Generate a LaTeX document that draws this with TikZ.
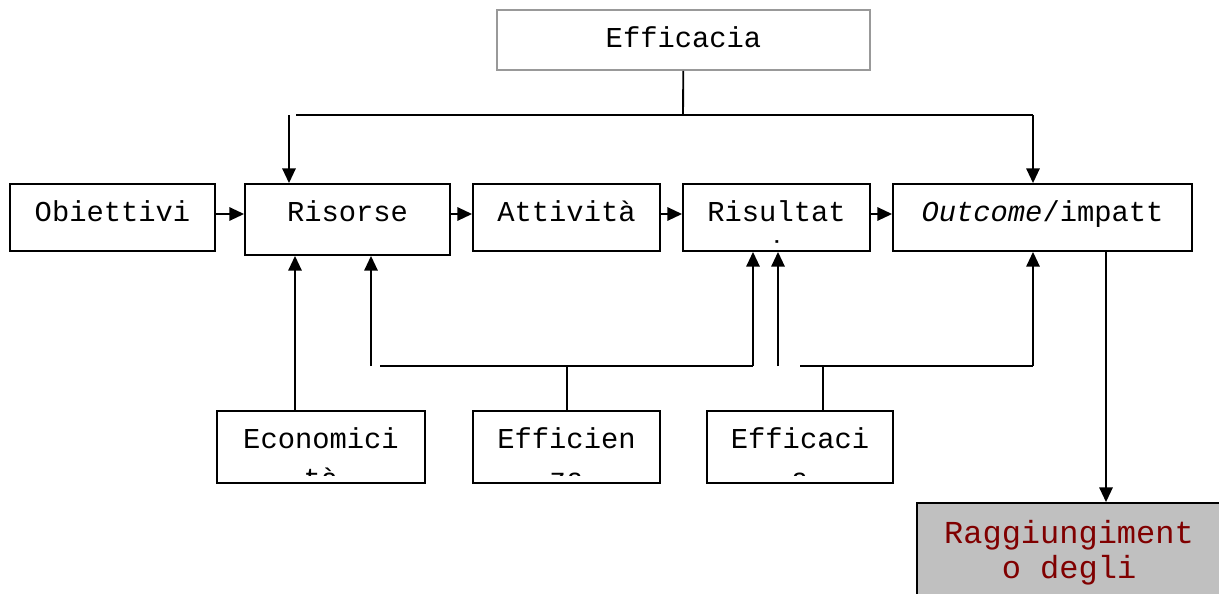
\documentclass[tikz,border=0pt]{standalone}
\usepackage{fontspec}
\setmainfont{Liberation Mono}
\usetikzlibrary{arrows.meta}
\definecolor{rimgray}{RGB}{153,153,153}
\definecolor{goalfill}{RGB}{192,192,192}
\definecolor{goalred}{RGB}{128,0,0}
\begin{document}
\begin{tikzpicture}[%
  x = 0.75pt, y = -0.75pt,
  line width = 1.4pt,
  font = \fontsize{21.6}{30}\selectfont,
  > = {Triangle[length = 11pt, width = 10pt]},
  blk/.style = {draw, rectangle, inner sep = 0pt},
  txt/.style = {path picture = {
      \clip ([yshift = 5.5pt]path picture bounding box.south west)
        rectangle (path picture bounding box.north east);
      \node[anchor = north, align = center, inner sep = 0pt, draw = none,
        fill = none, minimum width = 0pt, minimum height = 0pt]
        at ([yshift = -12pt]path picture bounding box.north) {#1};}},
  shortrow/.style = {minimum width = 140.25pt, minimum height = 50.25pt},
  lowrow/.style = {minimum height = 54pt}]
  \useasboundingbox (0, 0) rectangle (1219, 593);

  % boxes
  \node[blk, draw = rimgray, minimum width = 279.75pt, minimum height = 45pt,
    txt = {Efficacia}] (efftop) at (683.5, 40) {};
  \node[blk, minimum width = 153.75pt, minimum height = 50.25pt,
    txt = {Obiettivi}] (obi) at (112.5, 217.5) {};
  \node[blk, minimum width = 153.75pt, minimum height = 53.25pt,
    txt = {Risorse}] (ris) at (347.5, 219.5) {};
  \node[blk, shortrow, txt = {Attività}] (att) at (566.5, 217.5) {};
  \node[blk, shortrow, txt = {Risultat\\i}] (rst) at (776.5, 217.5) {};
  \node[blk, minimum width = 224.25pt, minimum height = 50.25pt,
    txt = {\textit{Outcome}/impatt\\o}] (out) at (1042.5, 217.5) {};
  \node[blk, lowrow, minimum width = 156pt,
    txt = {Economici\\tà}] (eco) at (321, 447) {};
  \node[blk, lowrow, minimum width = 140.25pt,
    txt = {Efficien\\za}] (efz) at (566.5, 447) {};
  \node[blk, lowrow, minimum width = 139.5pt,
    txt = {Efficaci\\a}] (efc) at (800, 447) {};
  \node[blk, fill = goalfill, text = goalred,
    font = \fontsize{24}{26.25}\selectfont,
    minimum width = 228pt, minimum height = 102.75pt,
    txt = {Raggiungiment\\o degli}] (goal) at (1069, 571.5) {};

  % top branch
  \coordinate (topj) at (683, 115);
  \coordinate (topl) at (296, 115);
  \coordinate (topr) at (1033, 115);
  \coordinate (risin) at (289, 115);
  \draw (efftop) -- (topj);
  \draw (topl) -- (topr);
  \draw[->] (risin) -- (risin |- ris.north);
  \draw[->] (topr) -- (topr |- out.north);

  % main chain
  \coordinate (chain) at (0, 214);
  \draw[->] (obi.east |- chain) -- (ris.west |- chain);
  \draw[->] (ris.east |- chain) -- (att.west |- chain);
  \draw[->] (att.east |- chain) -- (rst.west |- chain);
  \draw[->] (rst.east |- chain) -- (out.west |- chain);

  % economicita
  \coordinate (ecoup) at (295, 411);
  \draw[->] (ecoup) -- (ecoup |- ris.south);

  % efficienza
  \coordinate (efzj) at (567, 366);
  \coordinate (efzl) at (380, 366);
  \coordinate (efzr) at (753, 366);
  \coordinate (efzlup) at (371, 366);
  \draw (efzj |- efz.north) -- (efzj);
  \draw (efzl) -- (efzr);
  \draw[->] (efzlup) -- (efzlup |- ris.south);
  \draw[->] (efzr) -- (efzr |- rst.south);

  % efficacia
  \coordinate (efcj) at (823, 366);
  \coordinate (efcl) at (800, 366);
  \coordinate (efcr) at (1033, 366);
  \coordinate (efclup) at (778, 366);
  \draw (efcj |- efc.north) -- (efcj);
  \draw (efcl) -- (efcr);
  \draw[->] (efclup) -- (efclup |- rst.south);
  \draw[->] (efcr) -- (efcr |- out.south);

  % outcome to goal
  \coordinate (goalin) at (1106, 503);
  \draw[->] (goalin |- out.south) -- (goalin |- goal.north);
\end{tikzpicture}
\end{document}
